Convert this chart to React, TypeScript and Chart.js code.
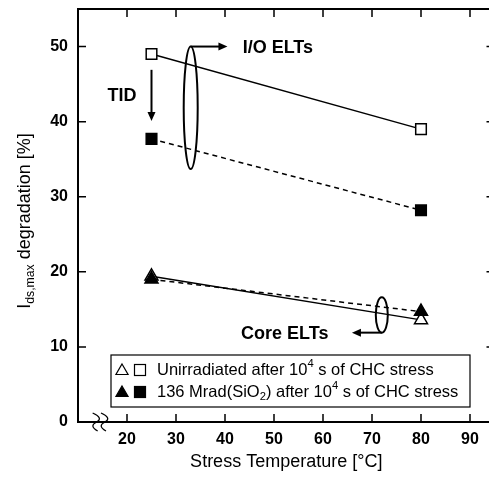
import React, { useEffect, useRef } from "react";
import { Chart, registerables } from "chart.js";

Chart.register(...registerables);

const temps = [25, 80];
const unirrIO = [49.0, 39.0];
const irrIO = [37.7, 28.2];
const unirrCore = [19.4, 13.6];
const irrCore = [19.0, 14.7];
const xTickLabels = [20, 30, 40, 50, 60, 70, 80, 90];
const yTickLabels = [0, 10, 20, 30, 40, 50];

const FONT = '"Liberation Sans", Arial, sans-serif';

const pts = (ys: number[]) => temps.map((t, i) => ({ x: t, y: ys[i] }));

function arrowHead(ctx: CanvasRenderingContext2D, x: number, y: number, dx: number, dy: number) {
  const len = 9, hw = 4;
  const px = -dy, py = dx;
  ctx.beginPath();
  ctx.moveTo(x, y);
  ctx.lineTo(x - dx * len + px * hw, y - dy * len + py * hw);
  ctx.lineTo(x - dx * len - px * hw, y - dy * len - py * hw);
  ctx.closePath();
  ctx.fill();
}

function drawTri(ctx: CanvasRenderingContext2D, x: number, y: number, r: number, filled: boolean) {
  ctx.beginPath();
  ctx.moveTo(x, y - r);
  ctx.lineTo(x + r * 0.866, y + r * 0.5);
  ctx.lineTo(x - r * 0.866, y + r * 0.5);
  ctx.closePath();
  if (filled) ctx.fill();
  ctx.stroke();
}

function drawSq(ctx: CanvasRenderingContext2D, x: number, y: number, s: number, filled: boolean) {
  if (filled) ctx.fillRect(x - s / 2, y - s / 2, s, s);
  ctx.strokeRect(x - s / 2, y - s / 2, s, s);
}

// parts: [text, kind] where kind: 0 normal, 1 sup, 2 sub
function richText(ctx: CanvasRenderingContext2D, x: number, y: number, parts: [string, number][], size: number) {
  let cx = x;
  for (const [t, k] of parts) {
    const fs = k === 0 ? size : size * 0.68;
    ctx.font = `${fs}px ${FONT}`;
    const dy = k === 1 ? -size * 0.38 : k === 2 ? size * 0.3 : 0;
    ctx.fillText(t, cx, y + dy);
    cx += ctx.measureText(t).width;
  }
}

const framePlugin = {
  id: "frame",
  afterDraw(chart: any) {
    const ctx: CanvasRenderingContext2D = chart.ctx;
    const { left, right, top, bottom } = chart.chartArea;
    const xs = chart.scales.x;
    const ys = chart.scales.y;
    ctx.save();
    ctx.strokeStyle = "#000";
    ctx.fillStyle = "#000";
    ctx.lineWidth = 2;
    ctx.strokeRect(left, top, right - left, bottom - top);
    // inward ticks
    ctx.lineWidth = 1.5;
    const tl = 8;
    ctx.beginPath();
    for (const v of xTickLabels) {
      const px = xs.getPixelForValue(v);
      ctx.moveTo(px, bottom);
      ctx.lineTo(px, bottom - tl);
      ctx.moveTo(px, top);
      ctx.lineTo(px, top + tl);
    }
    for (const v of yTickLabels) {
      if (v === 0) continue;
      const py = ys.getPixelForValue(v);
      ctx.moveTo(left, py);
      ctx.lineTo(left + tl, py);
      ctx.moveTo(right, py);
      ctx.lineTo(right - tl, py);
    }
    ctx.stroke();

    // axis break marks
    ctx.lineWidth = 1.3;
    for (const bv of [13.4, 15.1]) {
      const bx = xs.getPixelForValue(bv);
      ctx.beginPath();
      ctx.moveTo(bx - 2, bottom - 9);
      ctx.quadraticCurveTo(bx + 9, bottom - 4, bx + 2, bottom);
      ctx.quadraticCurveTo(bx - 6, bottom + 4, bx + 3, bottom + 9);
      ctx.stroke();
    }

    // axis titles
    ctx.fillStyle = "#000";
    ctx.textBaseline = "middle";
    ctx.textAlign = "center";
    ctx.font = `18px ${FONT}`;
    ctx.fillText("Stress Temperature [°C]", (left + right) / 2, 462);

    ctx.save();
    ctx.translate(25, 221);
    ctx.rotate(-Math.PI / 2);
    ctx.textAlign = "left";
    const ySize = 18;
    ctx.font = `${ySize}px ${FONT}`;
    const p1 = "I";
    const p2 = "ds,max";
    const p3 = " degradation [%]";
    const w1 = ctx.measureText(p1).width;
    const w3 = ctx.measureText(p3).width;
    ctx.font = `${ySize * 0.68}px ${FONT}`;
    const w2 = ctx.measureText(p2).width;
    const tw = w1 + w2 + w3;
    let cx = -tw / 2;
    ctx.font = `${ySize}px ${FONT}`;
    ctx.fillText(p1, cx, 0);
    cx += w1;
    ctx.font = `${ySize * 0.68}px ${FONT}`;
    ctx.fillText(p2, cx, ySize * 0.3);
    cx += w2;
    ctx.font = `${ySize}px ${FONT}`;
    ctx.fillText(p3, cx, 0);
    ctx.restore();

    // annotations
    ctx.lineWidth = 2;
    // I/O ellipse
    const ioX = xs.getPixelForValue(33);
    const ioTop = ys.getPixelForValue(50);
    const ioBot = ys.getPixelForValue(33.7);
    ctx.beginPath();
    ctx.ellipse(ioX, (ioTop + ioBot) / 2, 7, (ioBot - ioTop) / 2, 0, 0, Math.PI * 2);
    ctx.stroke();
    const ioArrEnd = xs.getPixelForValue(40.5);
    ctx.beginPath();
    ctx.moveTo(ioX, ioTop);
    ctx.lineTo(ioArrEnd - 6, ioTop);
    ctx.stroke();
    arrowHead(ctx, ioArrEnd, ioTop, 1, 0);
    ctx.font = `bold 18px ${FONT}`;
    ctx.textAlign = "left";
    ctx.fillText("I/O ELTs", xs.getPixelForValue(43.6), ioTop + 1);

    // Core ellipse
    const cX = xs.getPixelForValue(72);
    const cTop = ys.getPixelForValue(16.6);
    const cBot = ys.getPixelForValue(11.9);
    ctx.beginPath();
    ctx.ellipse(cX, (cTop + cBot) / 2, 6, (cBot - cTop) / 2, 0, 0, Math.PI * 2);
    ctx.stroke();
    const cArrEnd = xs.getPixelForValue(65.9);
    ctx.beginPath();
    ctx.moveTo(cX, cBot);
    ctx.lineTo(cArrEnd + 6, cBot);
    ctx.stroke();
    arrowHead(ctx, cArrEnd, cBot, -1, 0);
    ctx.textAlign = "right";
    ctx.fillText("Core ELTs", xs.getPixelForValue(61.1), cBot + 1);

    // TID
    ctx.textAlign = "center";
    ctx.fillText("TID", xs.getPixelForValue(19), ys.getPixelForValue(43.4));
    const tX = xs.getPixelForValue(25);
    const tA = ys.getPixelForValue(46.9);
    const tB = ys.getPixelForValue(40.1);
    ctx.beginPath();
    ctx.moveTo(tX, tA);
    ctx.lineTo(tX, tB - 6);
    ctx.stroke();
    arrowHead(ctx, tX, tB, 0, 1);

    // legend box
    const bl = 111, bt = 355, br = 470, bb = 407;
    ctx.fillStyle = "#fff";
    ctx.fillRect(bl, bt, br - bl, bb - bt);
    ctx.strokeStyle = "#000";
    ctx.lineWidth = 1.2;
    ctx.strokeRect(bl, bt, br - bl, bb - bt);
    ctx.fillStyle = "#000";
    ctx.lineWidth = 1.2;
    const l1 = 370, l2 = 392;
    drawTri(ctx, 122, l1 + 1, 7, false);
    drawSq(ctx, 140, l1, 11, false);
    drawTri(ctx, 122, l2 + 1, 7, true);
    drawSq(ctx, 140, l2, 11, true);
    ctx.textAlign = "left";
    ctx.textBaseline = "middle";
    const ls = 16.5;
    richText(ctx, 157, l1, [["Unirradiated after 10", 0], ["4", 1], [" s of CHC stress", 0]], ls);
    richText(ctx, 157, l2, [["136 Mrad(SiO", 0], ["2", 2], [") after 10", 0], ["4", 1], [" s of CHC stress", 0]], ls);

    ctx.restore();
  },
};

export default function App() {
  const ref = useRef<HTMLCanvasElement | null>(null);
  useEffect(() => {
    if (!ref.current) return;
    const common = {
      borderColor: "#000",
      borderWidth: 1.5,
      pointBorderColor: "#000",
      pointBorderWidth: 1.5,
      showLine: true,
    };
    const chart = new Chart(ref.current, {
      type: "scatter",
      data: {
        datasets: [
          {
            ...common,
            label: "136 Mrad I/O",
            data: pts(irrIO),
            borderDash: [5, 4],
            pointStyle: "rect",
            pointRadius: 7.5,
            pointBackgroundColor: "#000",
          },
          {
            ...common,
            label: "136 Mrad Core",
            data: pts(irrCore),
            borderDash: [5, 4],
            pointStyle: "triangle",
            pointRadius: 7.5,
            pointBackgroundColor: "#000",
          },
          {
            ...common,
            label: "Unirradiated I/O",
            data: pts(unirrIO),
            pointStyle: "rect",
            pointRadius: 7.5,
            pointBackgroundColor: "#fff",
          },
          {
            ...common,
            label: "Unirradiated Core",
            data: pts(unirrCore),
            pointStyle: "triangle",
            pointRadius: 7.5,
            pointBackgroundColor: "#fff",
          },
        ],
      },
      options: {
        animation: false,
        responsive: false,
        devicePixelRatio: 1,
        layout: { padding: { top: 7, right: 15.5, bottom: 0, left: 0 } },
        plugins: { legend: { display: false }, tooltip: { enabled: false } },
        scales: {
          x: {
            type: "linear",
            min: 10,
            max: 95,
            afterFit: (s: any) => {
              s.height = 55;
              s.paddingLeft = 0;
              s.paddingRight = 0;
            },
            afterBuildTicks: (s: any) => {
              s.ticks = xTickLabels.map((v) => ({ value: v }));
            },
            ticks: {
              autoSkip: false,
              maxRotation: 0,
              color: "#000",
              padding: 8,
              font: { family: FONT, size: 16, weight: "bold" },
            },
            grid: { display: false, drawTicks: false },
            border: { display: false },
          },
          y: {
            type: "linear",
            min: 0,
            max: 55,
            afterFit: (s: any) => {
              s.width = 78;
              s.paddingTop = 0;
              s.paddingBottom = 0;
            },
            afterBuildTicks: (s: any) => {
              s.ticks = yTickLabels.map((v) => ({ value: v }));
            },
            ticks: {
              autoSkip: false,
              color: "#000",
              padding: 10,
              font: { family: FONT, size: 16, weight: "bold" },
            },
            grid: { display: false, drawTicks: false },
            border: { display: false },
          },
        },
      },
      plugins: [framePlugin],
    } as any);
    return () => chart.destroy();
  }, []);
  return (
    <div style={{ position: "fixed", left: 0, top: 0, width: 510, height: 477, background: "#fff" }}>
      <canvas ref={ref} width={510} height={477} style={{ display: "block" }} />
    </div>
  );
}
